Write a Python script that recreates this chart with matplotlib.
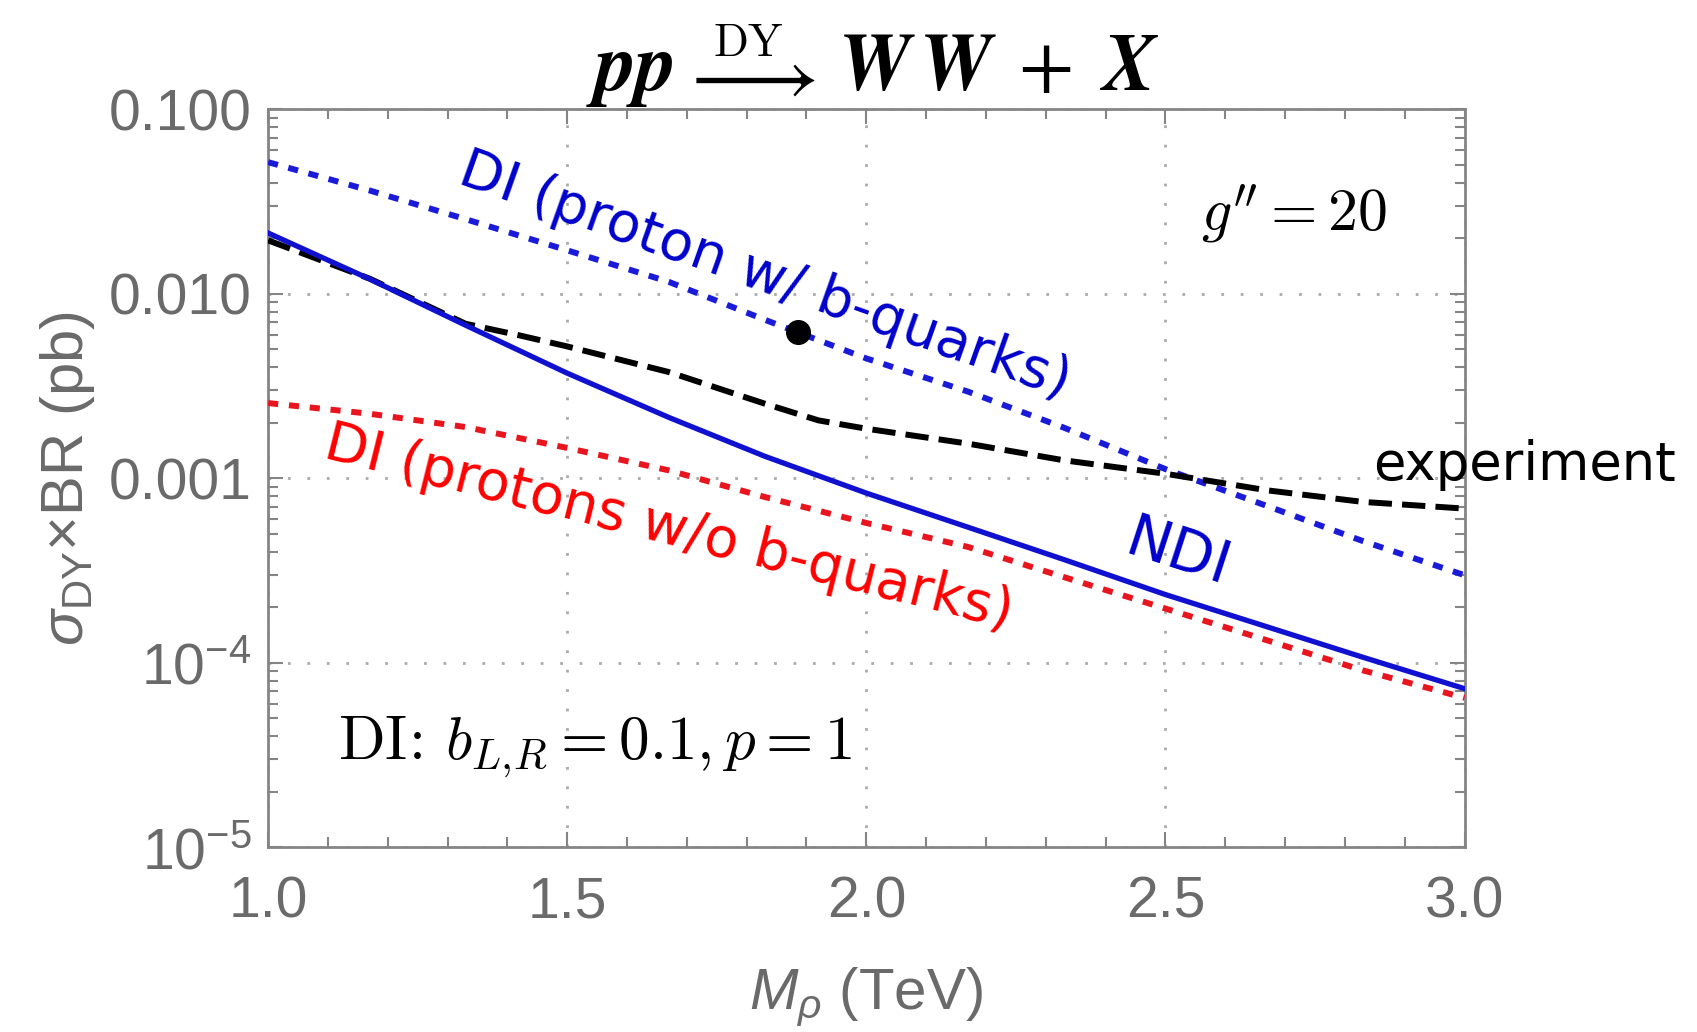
import matplotlib
matplotlib.use('Agg')
import matplotlib.pyplot as plt
from matplotlib.ticker import MultipleLocator, LogLocator, NullFormatter, FixedLocator

# masses (TeV) and sigma x BR (pb)
mass = [1.0, 1.17, 1.33, 1.5, 1.67, 1.83, 2.0, 2.17, 2.33, 2.5, 2.67, 2.83, 3.0]
di_b = [0.05176, 0.03631, 0.02541, 0.01722, 0.01161, 0.007244, 0.004467, 0.002951,
        0.001884, 0.001122, 0.0007079, 0.0004571, 0.0002985]
di_nob = [0.002559, 0.002239, 0.001897, 0.001462, 0.001104, 0.0007925, 0.0005728,
          0.0004246, 0.0002917, 0.0001968, 0.0001324, 0.0000910, 0.00006457]
ndi = [0.02138, 0.01202, 0.006761, 0.003715, 0.002138, 0.001318, 0.0008318,
       0.0005433, 0.0003631, 0.0002344, 0.0001567, 0.0001072, 0.00007244]

mass_exp = [1.0, 1.17, 1.33, 1.42, 1.5, 1.67, 1.83, 1.92, 2.0, 2.17, 2.33, 2.5, 2.67, 2.83, 3.0]
exp_limit = [0.0195, 0.01208, 0.006887, 0.005957, 0.005188, 0.003767, 0.002541, 0.002061,
             0.001858, 0.001542, 0.001253, 0.001059, 0.000861, 0.000745, 0.0006855]

point_mass = [1.885]
point_xs = [0.00621]

ytick_vals = [1e-5, 1e-4, 1e-3, 1e-2, 1e-1]
ytick_labels = ['$10^{-5}$', '$10^{-4}$', '0.001', '0.010', '0.100']
xtick_vals = [1.0, 1.5, 2.0, 2.5, 3.0]
xtick_labels = ['1.0', '1.5', '2.0', '2.5', '3.0']

plt.rcParams['mathtext.fontset'] = 'custom'
plt.rcParams['mathtext.rm'] = 'Liberation Sans'
plt.rcParams['mathtext.it'] = 'Liberation Sans:italic'
plt.rcParams['mathtext.bf'] = 'Liberation Sans:bold'

gray = '#6a6a6a'
spine = '#858585'

fig = plt.figure(figsize=(16.97, 10.32), dpi=100)
ax = fig.add_axes([0.158, 0.179, 0.705, 0.715])

ax.plot(mass, di_b, color='#1a1ad9', lw=4.3, ls=(0, (1.7, 1.8)), dash_capstyle='butt', zorder=3)
ax.plot(mass, di_nob, color='#e8141e', lw=4.3, ls=(0, (1.7, 1.8)), dash_capstyle='butt', zorder=3)
ax.plot(mass, ndi, color='#1010d0', lw=3.8, zorder=4)
ax.plot(mass_exp, exp_limit, color='black', lw=4.3, ls=(0, (3.9, 1.7)), zorder=3)
ax.plot(point_mass, point_xs, 'o', color='black', ms=17, zorder=5)

ax.set_yscale('log')
ax.set_xlim(1.0, 3.0)
ax.set_ylim(1e-5, 1e-1)

ax.xaxis.set_major_locator(FixedLocator(xtick_vals))
ax.set_xticklabels(xtick_labels)
ax.xaxis.set_minor_locator(MultipleLocator(0.1))
ax.yaxis.set_major_locator(FixedLocator(ytick_vals))
ax.set_yticklabels(ytick_labels)
ax.yaxis.set_minor_locator(LogLocator(base=10, subs=range(2, 10), numticks=20))
ax.yaxis.set_minor_formatter(NullFormatter())

ax.tick_params(which='both', direction='in', top=True, right=True, color=spine,
               width=1.5, labelsize=41, labelcolor=gray)
ax.tick_params(axis='x', pad=20)
ax.tick_params(axis='y', pad=12)
ax.tick_params(which='major', length=11)
ax.tick_params(which='minor', length=7)
for lab in ax.get_xticklabels() + ax.get_yticklabels():
    lab.set_family('Liberation Sans')

for s in ax.spines.values():
    s.set_color(spine)
    s.set_linewidth(2)

ax.grid(which='major', color='#aaaaaa', ls=(0, (1, 6)), lw=2)

ax.set_xlabel(r'$M_\rho$ (TeV)', fontsize=42, color=gray, family='Liberation Sans', labelpad=26)
ax.set_ylabel(r'$\sigma_{\rm DY}$$\times$BR (pb)', fontsize=43, color=gray,
              family='Liberation Sans', labelpad=8)

# title in pieces: pp, arrow with DY on top, WW + X
fig.text(0.397, 0.913, r'$\boldsymbol{pp}$', fontsize=58, ha='right', va='baseline',
         math_fontfamily='stix')
fig.text(0.441, 0.903, r'$\longrightarrow$', fontsize=58, ha='center', va='baseline',
         math_fontfamily='stix')
fig.text(0.441, 0.958, r'$\mathrm{DY}$', fontsize=33, ha='center', va='center',
         math_fontfamily='cm')
fig.text(0.494, 0.913, r'$\boldsymbol{W}\,\boldsymbol{W}\;+\;\boldsymbol{X}$', fontsize=58,
         ha='left', va='baseline', math_fontfamily='stix')

ax.text(2.715, 10**-1.57, r"$g'' = 20$", fontsize=43, ha='center', va='center', math_fontfamily='cm')
ax.text(1.117, 10**-4.46, r'$\mathrm{DI}\!:\, b_{L,\!R} = 0.1, p = 1$', fontsize=44,
        ha='left', va='center', math_fontfamily='cm')

ax.text(1.83, 10**-1.905, 'DI (proton w/ b-quarks)', color='#0000cc', fontsize=40,
        rotation=-19.5, ha='center', va='center', rotation_mode='anchor')
ax.text(1.67, 10**-3.27, 'DI (protons w/o b-quarks)', color='#ff0000', fontsize=40,
        rotation=-14, ha='center', va='center', rotation_mode='anchor')
ax.text(2.52, 10**-3.41, 'NDI', color='#0000cc', fontsize=42,
        rotation=-18, ha='center', va='center', rotation_mode='anchor')
ax.text(2.848, 10**-2.93, 'experiment', color='black', fontsize=38,
        ha='left', va='center', clip_on=False)

fig.savefig('out.png', dpi=100)
